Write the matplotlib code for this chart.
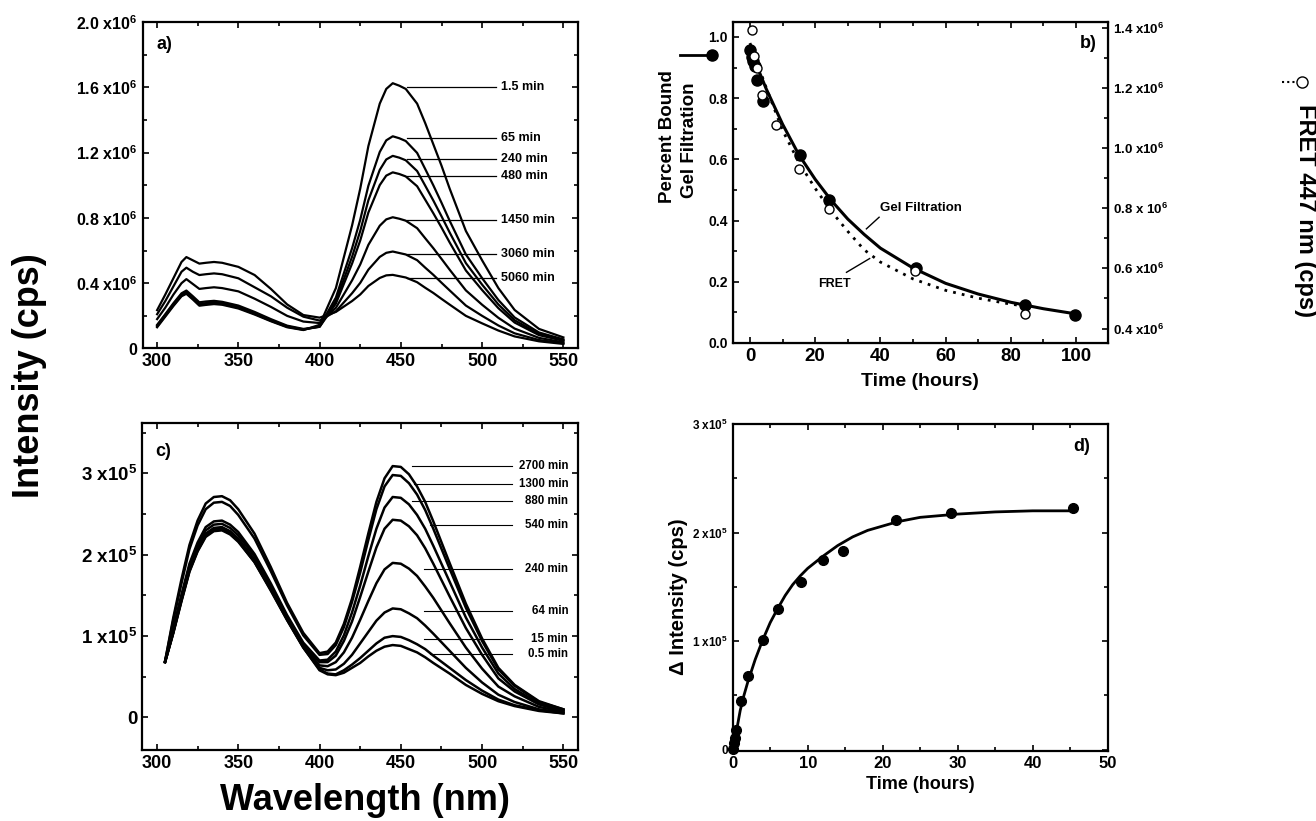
import matplotlib
matplotlib.use('Agg')
import matplotlib.pyplot as plt
from matplotlib.ticker import MultipleLocator
from matplotlib.lines import Line2D

plt.rcParams['font.family'] = ['Liberation Sans', 'DejaVu Sans']
plt.rcParams['font.weight'] = 'bold'
plt.rcParams['axes.labelweight'] = 'bold'
plt.rcParams['mathtext.fontset'] = 'custom'
plt.rcParams['mathtext.rm'] = 'Liberation Sans:bold'
plt.rcParams['mathtext.bf'] = 'Liberation Sans:bold'
plt.rcParams['mathtext.default'] = 'bf'

# ---- panel a: spectra (x1e6 cps) ----
wl_a = [300, 305, 310, 315, 318, 322, 326, 330, 335, 340, 350, 360, 370, 380, 390,
        400, 410, 420, 425, 430, 437, 441, 445, 449, 453, 460, 465, 470, 475, 480, 490, 500, 510, 520, 535, 550]
a_1p5 = [0.13, 0.195, 0.26, 0.32, 0.335, 0.30, 0.262, 0.267, 0.272, 0.268, 0.245, 0.208, 0.167, 0.13, 0.113,
         0.145, 0.37, 0.755, 0.98, 1.24, 1.50, 1.59, 1.625, 1.61, 1.59, 1.50, 1.38, 1.25, 1.12, 0.98, 0.72, 0.54, 0.37, 0.236, 0.12, 0.068]
a_65 = [0.135, 0.2, 0.265, 0.325, 0.34, 0.305, 0.267, 0.272, 0.277, 0.272, 0.25, 0.212, 0.17, 0.133, 0.115,
        0.136, 0.312, 0.615, 0.789, 0.997, 1.204, 1.275, 1.30, 1.288, 1.271, 1.198, 1.099, 0.999, 0.893, 0.783, 0.576, 0.431, 0.297, 0.19, 0.098, 0.056]
a_240 = [0.14, 0.205, 0.27, 0.33, 0.345, 0.31, 0.273, 0.278, 0.283, 0.278, 0.255, 0.217, 0.174, 0.136, 0.117,
         0.133, 0.291, 0.563, 0.72, 0.908, 1.094, 1.158, 1.18, 1.169, 1.153, 1.087, 0.997, 0.906, 0.81, 0.711, 0.523, 0.391, 0.27, 0.173, 0.089, 0.051]
a_480 = [0.145, 0.21, 0.277, 0.338, 0.355, 0.32, 0.283, 0.288, 0.292, 0.286, 0.263, 0.224, 0.18, 0.14, 0.12,
         0.133, 0.275, 0.521, 0.662, 0.833, 1.001, 1.059, 1.079, 1.069, 1.054, 0.994, 0.911, 0.828, 0.741, 0.65, 0.478, 0.358, 0.247, 0.159, 0.082, 0.047]
a_1450 = [0.18, 0.25, 0.33, 0.40, 0.425, 0.395, 0.365, 0.37, 0.375, 0.37, 0.35, 0.305, 0.255, 0.2, 0.165,
          0.156, 0.249, 0.418, 0.515, 0.635, 0.752, 0.791, 0.804, 0.795, 0.783, 0.737, 0.675, 0.614, 0.549, 0.483, 0.356, 0.268, 0.188, 0.122, 0.065, 0.038]
a_3060 = [0.21, 0.29, 0.38, 0.47, 0.495, 0.47, 0.45, 0.455, 0.46, 0.455, 0.43, 0.375, 0.32, 0.25, 0.195,
          0.171, 0.228, 0.339, 0.402, 0.483, 0.561, 0.586, 0.594, 0.585, 0.576, 0.541, 0.495, 0.451, 0.403, 0.356, 0.263, 0.2, 0.141, 0.093, 0.052, 0.032]
a_5060 = [0.235, 0.33, 0.43, 0.53, 0.56, 0.54, 0.52, 0.525, 0.53, 0.525, 0.50, 0.45, 0.365, 0.27, 0.205,
          0.189, 0.224, 0.291, 0.331, 0.383, 0.432, 0.448, 0.451, 0.443, 0.435, 0.406, 0.372, 0.34, 0.304, 0.269, 0.2, 0.154, 0.11, 0.074, 0.044, 0.028]
labels_a = ['1.5 min', '65 min', '240 min', '480 min', '1450 min', '3060 min', '5060 min']
label_y_a = [1.60, 1.29, 1.158, 1.058, 0.787, 0.577, 0.434]

# ---- panel b: dissociation ----
t_gel = [0, 0.5, 1.0, 1.5, 2.2, 3.9, 15.3, 24.1, 51, 84.3, 99.7]
gel = [0.959, 0.935, 0.92, 0.905, 0.858, 0.79, 0.614, 0.466, 0.244, 0.123, 0.091]
t_gel_fit = [0, 5, 10, 15, 20, 25, 30, 35, 40, 50, 60, 70, 80, 90, 100]
gel_fit = [0.96, 0.83, 0.715, 0.615, 0.535, 0.465, 0.405, 0.355, 0.31, 0.245, 0.195, 0.16, 0.133, 0.112, 0.095]
t_fret = [0.5, 1.2, 2.2, 3.6, 8, 15.1, 24.1, 50.5, 84.2]
fret = [1.392, 1.307, 1.265, 1.176, 1.077, 0.932, 0.798, 0.590, 0.450]
t_fret_fit = [0, 5, 10, 15, 20, 25, 30, 35, 40, 50, 60, 70, 80, 85]
fret_fit = [1.349, 1.2, 1.059, 0.952, 0.866, 0.789, 0.723, 0.662, 0.621, 0.565, 0.527, 0.501, 0.481, 0.474]

# ---- panel c: spectra (x1e5 cps) ----
wl_c = [305, 310, 315, 320, 325, 330, 335, 340, 345, 350, 360, 370, 380, 390, 400, 405, 410, 415,
        420, 425, 430, 435, 440, 445, 450, 455, 460, 465, 470, 480, 490, 500, 510, 520, 535, 550]
c_2700 = [0.69, 1.22, 1.69, 2.12, 2.42, 2.63, 2.71, 2.72, 2.67, 2.56, 2.26, 1.85, 1.41, 1.04, 0.79, 0.81, 0.92, 1.15,
          1.46, 1.85, 2.26, 2.65, 2.94, 3.09, 3.08, 2.99, 2.84, 2.65, 2.41, 1.90, 1.40, 0.97, 0.61, 0.40, 0.20, 0.10]
c_1300 = [0.69, 1.19, 1.64, 2.07, 2.36, 2.56, 2.64, 2.65, 2.60, 2.49, 2.20, 1.80, 1.38, 1.01, 0.77, 0.78, 0.89, 1.11,
          1.42, 1.78, 2.18, 2.56, 2.84, 2.98, 2.97, 2.88, 2.74, 2.55, 2.32, 1.83, 1.35, 0.94, 0.59, 0.39, 0.19, 0.10]
c_880 = [0.69, 1.09, 1.50, 1.89, 2.15, 2.34, 2.41, 2.42, 2.37, 2.28, 2.01, 1.65, 1.26, 0.92, 0.70, 0.71, 0.81, 1.01,
         1.29, 1.62, 1.98, 2.32, 2.58, 2.71, 2.70, 2.62, 2.49, 2.32, 2.11, 1.67, 1.23, 0.86, 0.54, 0.35, 0.17, 0.09]
c_540 = [0.69, 1.07, 1.48, 1.86, 2.12, 2.30, 2.37, 2.38, 2.33, 2.24, 1.98, 1.62, 1.24, 0.90, 0.68, 0.68, 0.76, 0.94,
         1.18, 1.48, 1.79, 2.09, 2.32, 2.43, 2.42, 2.35, 2.24, 2.08, 1.89, 1.49, 1.10, 0.77, 0.48, 0.32, 0.16, 0.08]
c_240 = [0.68, 1.05, 1.45, 1.83, 2.08, 2.26, 2.33, 2.34, 2.29, 2.20, 1.94, 1.59, 1.22, 0.88, 0.64, 0.63, 0.68, 0.80,
         0.98, 1.20, 1.43, 1.65, 1.82, 1.90, 1.89, 1.83, 1.74, 1.61, 1.47, 1.16, 0.86, 0.60, 0.38, 0.26, 0.13, 0.07]
c_64 = [0.68, 1.04, 1.44, 1.81, 2.06, 2.24, 2.31, 2.32, 2.27, 2.18, 1.93, 1.58, 1.21, 0.87, 0.61, 0.58, 0.59, 0.66,
        0.77, 0.91, 1.05, 1.19, 1.29, 1.34, 1.33, 1.28, 1.22, 1.13, 1.03, 0.82, 0.61, 0.43, 0.28, 0.19, 0.10, 0.06]
c_15 = [0.68, 1.04, 1.43, 1.80, 2.05, 2.23, 2.30, 2.31, 2.26, 2.17, 1.91, 1.57, 1.20, 0.86, 0.59, 0.54, 0.53, 0.58,
        0.65, 0.73, 0.82, 0.91, 0.98, 1.00, 0.99, 0.95, 0.90, 0.84, 0.76, 0.61, 0.46, 0.33, 0.22, 0.15, 0.09, 0.05]
c_0p5 = [0.68, 1.03, 1.42, 1.79, 2.04, 2.22, 2.29, 2.30, 2.25, 2.16, 1.91, 1.56, 1.20, 0.86, 0.58, 0.53, 0.52, 0.55,
         0.61, 0.67, 0.75, 0.82, 0.87, 0.89, 0.88, 0.84, 0.80, 0.74, 0.67, 0.54, 0.40, 0.29, 0.20, 0.14, 0.08, 0.05]
labels_c = ['2700 min', '1300 min', '880 min', '540 min', '240 min', '64 min', '15 min', '0.5 min']
label_y_c = [3.09, 2.865, 2.663, 2.363, 1.82, 1.304, 0.968, 0.775]
label_x0_c = [457, 458, 457, 468, 464, 464, 464, 468]

# ---- panel d: intensity change ----
t_d = [0.1, 0.2, 0.3, 0.5, 1.16, 2.1, 4.1, 6.1, 9.1, 12.1, 14.7, 21.8, 29.1, 45.4]
d_int = [0.01, 0.06, 0.11, 0.18, 0.45, 0.68, 1.01, 1.30, 1.54, 1.75, 1.83, 2.12, 2.18, 2.23]
t_d_fit = [0, 0.5, 1, 1.5, 2, 3, 4, 5, 6, 7, 8, 9, 10, 12, 14, 16, 18, 20, 22, 25, 30, 35, 40, 45.5]
d_fit = [0.0, 0.17, 0.36, 0.50, 0.62, 0.83, 1.01, 1.17, 1.30, 1.42, 1.52, 1.60, 1.67, 1.78, 1.88,
         1.96, 2.02, 2.06, 2.10, 2.14, 2.17, 2.19, 2.20, 2.20]

W, H = 1316, 821
fig = plt.figure(figsize=(W / 100, H / 100), dpi=100)


def box(l, t, r, b):
    return [l / W, 1 - b / H, (r - l) / W, (b - t) / H]


def style(ax, top=True, right=True, size=4.5):
    for s in ax.spines.values():
        s.set_linewidth(1.6)
    ax.tick_params(which='both', direction='in', top=top, right=right, width=1.2)
    ax.tick_params(which='major', length=size)
    ax.tick_params(which='minor', length=size * 0.6)


# panel a
ax_a = fig.add_axes(box(142.5, 22, 578, 348.5))
for ys in [a_1p5, a_65, a_240, a_480, a_1450, a_3060, a_5060]:
    ax_a.plot(wl_a, [v * 1e6 for v in ys], color='black', lw=1.6, solid_joinstyle='round')
ax_a.set_xlim(291, 559)
ax_a.set_ylim(0, 2.0e6)
ax_a.set_xticks([300, 350, 400, 450, 500, 550])
ax_a.xaxis.set_minor_locator(MultipleLocator(25))
ax_a.set_yticks([0, 0.4e6, 0.8e6, 1.2e6, 1.6e6, 2.0e6],
                ['0', '0.4 x10$^6$', '0.8 x10$^6$', '1.2 x10$^6$', '1.6 x10$^6$', '2.0 x10$^6$'])
ax_a.yaxis.set_minor_locator(MultipleLocator(0.2e6))
ax_a.tick_params(axis='y', labelsize=11.5)
ax_a.tick_params(axis='x', labelsize=13)
style(ax_a)
for lab, yv in zip(labels_a, label_y_a):
    ax_a.plot([454, 508.6], [yv * 1e6, yv * 1e6], color='black', lw=0.9)
    ax_a.text(511.7, yv * 1e6, lab, fontsize=9, va='center', ha='left')
ax_a.text(0.033, 0.93, 'a)', transform=ax_a.transAxes, fontsize=13, va='center')

# panel b
ax_b = fig.add_axes(box(732.7, 21.7, 1108, 343))
ax_b.plot(t_gel_fit, gel_fit, color='black', lw=2.2)
ax_b.plot(t_gel, gel, 'o', color='black', ms=8, zorder=4)
ax_b.set_xlim(-5.3, 109.8)
ax_b.set_ylim(0, 1.05)
ax_b.set_xticks([0, 20, 40, 60, 80, 100])
ax_b.xaxis.set_minor_locator(MultipleLocator(10))
ax_b.set_yticks([0, 0.2, 0.4, 0.6, 0.8, 1.0], ['0.0', '0.2', '0.4', '0.6', '0.8', '1.0'])
ax_b.yaxis.set_minor_locator(MultipleLocator(0.1))
ax_b.tick_params(axis='y', labelsize=10)
ax_b.tick_params(axis='x', labelsize=13.5)
style(ax_b, right=False)
ax_b2 = ax_b.twinx()
ax_b2.plot(t_fret_fit, [v * 1e6 for v in fret_fit], color='black', lw=2, ls=(0, (1, 2.2)))
ax_b2.plot(t_fret, [v * 1e6 for v in fret], 'o', mfc='white', mec='black', ms=6.5, mew=1)
ax_b2.set_ylim(0.352e6, 1.42e6)
ax_b2.set_yticks([0.4e6, 0.6e6, 0.8e6, 1.0e6, 1.2e6, 1.4e6],
                 ['0.4 x10$^6$', '0.6 x10$^6$', '0.8 x 10$^6$', '1.0 x10$^6$', '1.2 x10$^6$', '1.4 x10$^6$'])
ax_b2.yaxis.set_minor_locator(MultipleLocator(0.1e6))
ax_b2.tick_params(which='both', direction='in', width=1.2, labelsize=9.5)
ax_b2.tick_params(which='major', length=4.5)
ax_b2.tick_params(which='minor', length=2.7)
ax_b.set_xlabel('Time (hours)', fontsize=14, labelpad=6)
ax_b.text(40, 0.44, 'Gel Filtration', fontsize=9.5, va='center')
ax_b.plot([35.7, 39.6], [0.373, 0.411], color='black', lw=1)
ax_b.text(20.8, 0.192, 'FRET', fontsize=9, va='center')
ax_b.plot([29.6, 36.7], [0.231, 0.276], color='black', lw=1)
ax_b.text(0.925, 0.933, 'b)', transform=ax_b.transAxes, fontsize=13, va='center')

# panel c
ax_c = fig.add_axes(box(142.3, 423.3, 578, 750))
for ys in [c_2700, c_1300, c_880, c_540, c_240, c_64, c_15, c_0p5]:
    ax_c.plot(wl_c, [v * 1e5 for v in ys], color='black', lw=1.8, solid_joinstyle='round')
ax_c.set_xlim(291, 559)
ax_c.set_ylim(-0.4e5, 3.616e5)
ax_c.set_xticks([300, 350, 400, 450, 500, 550])
ax_c.xaxis.set_minor_locator(MultipleLocator(25))
ax_c.set_yticks([0, 1e5, 2e5, 3e5], ['0', '1 x10$^5$', '2 x10$^5$', '3 x10$^5$'])
ax_c.yaxis.set_minor_locator(MultipleLocator(0.5e5))
ax_c.tick_params(axis='y', labelsize=13.5)
ax_c.tick_params(axis='x', labelsize=13)
style(ax_c)
for lab, yv, x0 in zip(labels_c, label_y_c, label_x0_c):
    ax_c.plot([x0, 518.5], [yv * 1e5, yv * 1e5], color='black', lw=0.8)
    ax_c.text(553, yv * 1e5, lab, fontsize=8.3, va='center', ha='right')
ax_c.text(0.029, 0.913, 'c)', transform=ax_c.transAxes, fontsize=13, va='center')

# panel d
ax_d = fig.add_axes(box(732.7, 424, 1107.7, 750.7))
ax_d.plot(t_d_fit, [v * 1e5 for v in d_fit], color='black', lw=2)
ax_d.plot(t_d, [v * 1e5 for v in d_int], 'o', color='black', ms=7, clip_on=False, zorder=4)
ax_d.set_xlim(0, 50)
ax_d.set_ylim(-0.01e5, 3e5)
ax_d.set_xticks([0, 10, 20, 30, 40, 50])
ax_d.xaxis.set_minor_locator(MultipleLocator(5))
ax_d.set_yticks([0, 1e5, 2e5, 3e5], ['0', '1 x10$^5$', '2 x10$^5$', '3 x10$^5$'])
ax_d.yaxis.set_minor_locator(MultipleLocator(0.5e5))
ax_d.tick_params(axis='y', labelsize=8.5)
ax_d.tick_params(axis='x', labelsize=12)
style(ax_d)
ax_d.set_xlabel('Time (hours)', fontsize=13, labelpad=4)
ax_d.text(0.907, 0.93, 'd)', transform=ax_d.transAxes, fontsize=13, va='center')

# shared / outer labels
fig.text(30 / W, 1 - 376 / H, 'Intensity (cps)', rotation=90, fontsize=26, ha='center', va='center')
fig.text(365 / W, 1 - 800 / H, 'Wavelength (nm)', fontsize=26, ha='center', va='center')
fig.text(678 / W, 1 - 597 / H, '\u0394 Intensity (cps)', rotation=90, fontsize=14.5, ha='center', va='center')
fig.text(668 / W, 1 - 137 / H, 'Percent Bound', rotation=90, fontsize=13.5, ha='center', va='center')
fig.text(690 / W, 1 - 140 / H, 'Gel Filtration', rotation=90, fontsize=13.5, ha='center', va='center')
fig.add_artist(Line2D([680 / W, 712 / W], [1 - 55 / H, 1 - 55 / H], color='black', lw=2,
                      marker='o', markevery=[1], ms=8, transform=fig.transFigure))
fig.text(1305 / W, 1 - 210 / H, 'FRET 447 nm (cps)', rotation=270, fontsize=17, ha='center', va='center')
fig.add_artist(Line2D([1282 / W, 1302 / W], [1 - 82 / H, 1 - 82 / H], color='black', lw=1.5,
                      ls=(0, (1, 1.5)), transform=fig.transFigure))
fig.add_artist(Line2D([1302 / W], [1 - 82 / H], color='black', marker='o', mfc='white', ms=8,
                      transform=fig.transFigure))

fig.savefig('out.png', dpi=100)
